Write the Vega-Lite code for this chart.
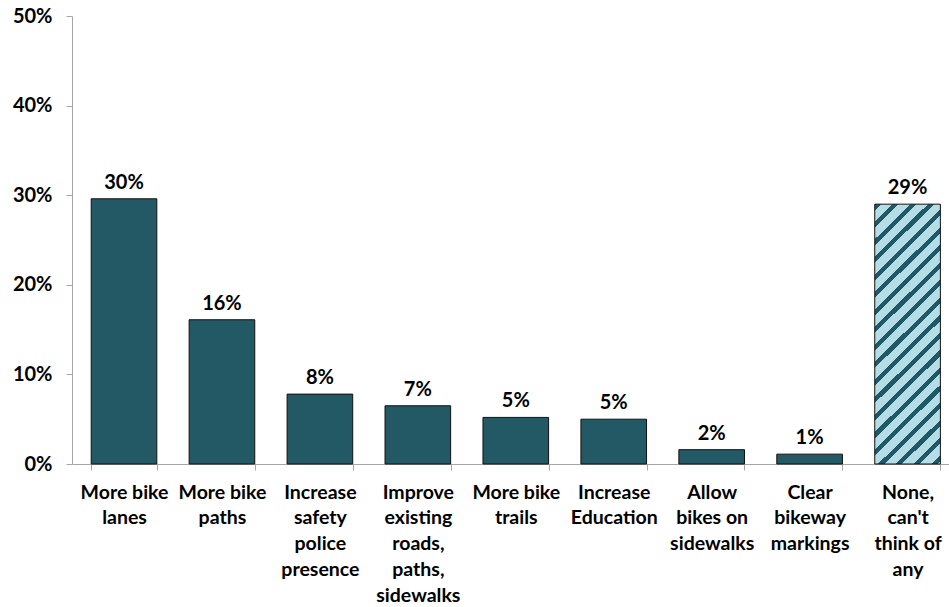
{
  "$schema": "https://vega.github.io/schema/vega-lite/v6.json",
  "autosize": {"type": "none"},
  "padding": {"left": 72, "top": 16, "right": 0, "bottom": 143},
  "width": 877,
  "height": 448,
  "background": "white",
  "config": {"view": {"stroke": null}, "font": "Lato"},
  "data": {"values": [
    {"cat": "More bike|lanes", "v": 0.296, "lbl": "30%", "kind": "solid"},
    {"cat": "More bike|paths", "v": 0.161, "lbl": "16%", "kind": "solid"},
    {"cat": "Increase|safety|police|presence", "v": 0.078, "lbl": "8%", "kind": "solid"},
    {"cat": "Improve|existing|roads,|paths,|sidewalks", "v": 0.065, "lbl": "7%", "kind": "solid"},
    {"cat": "More bike|trails", "v": 0.052, "lbl": "5%", "kind": "solid"},
    {"cat": "Increase|Education", "v": 0.050, "lbl": "5%", "kind": "solid"},
    {"cat": "Allow|bikes on|sidewalks", "v": 0.016, "lbl": "2%", "kind": "solid"},
    {"cat": "Clear|bikeway|markings", "v": 0.011, "lbl": "1%", "kind": "solid"},
    {"cat": "None,|can't|think of|any", "v": 0.290, "lbl": "29%", "kind": "hatch"}
  ]},
  "encoding": {
    "x": {
      "field": "cat", "type": "nominal", "sort": null,
      "scale": {"paddingInner": 0.33, "paddingOuter": 0.142, "align": 0.69},
      "axis": {
        "title": null, "labelAngle": 0, "tickBand": "extent",
        "labelExpr": "split(datum.label, '|')",
        "labelFont": "Lato", "labelFontSize": 19.5, "labelFontWeight": "bold", "labelColor": "#000000",
        "labelLineHeight": 25.8, "labelPadding": 13, "labelBaseline": "top",
        "domainColor": "#a6a6a6", "tickColor": "#a6a6a6", "tickSize": 6, "labelLimit": 200
      }
    },
    "y": {
      "field": "v", "type": "quantitative",
      "scale": {"domain": [0, 0.5], "nice": false},
      "axis": {
        "title": null, "values": [0, 0.1, 0.2, 0.3, 0.4, 0.5], "format": ".0%", "grid": false,
        "labelFont": "Lato", "labelFontSize": 20, "labelFontWeight": "bold", "labelColor": "#000000",
        "labelPadding": 14, "domainColor": "#a6a6a6", "tickColor": "#a6a6a6", "tickSize": 6
      }
    }
  },
  "layer": [
    {
      "transform": [{"filter": "datum.kind === 'solid'"}],
      "mark": {"type": "bar", "fill": "#235865", "stroke": "#111111", "strokeWidth": 1}
    },
    {
      "transform": [{"filter": "datum.kind === 'hatch'"}],
      "mark": {
        "type": "bar", "stroke": "#111111", "strokeWidth": 1,
        "fill": {
          "gradient": "linear", "x1": 0, "y1": 0, "x2": 0.294, "y2": 1.176,
          "stops": [
            {"offset": 0.000, "color": "#1f5866"}, {"offset": 0.019, "color": "#1f5866"}, {"offset": 0.019, "color": "#b5dde6"}, {"offset": 0.054, "color": "#b5dde6"},
            {"offset": 0.054, "color": "#1f5866"}, {"offset": 0.073, "color": "#1f5866"}, {"offset": 0.073, "color": "#b5dde6"}, {"offset": 0.108, "color": "#b5dde6"},
            {"offset": 0.108, "color": "#1f5866"}, {"offset": 0.127, "color": "#1f5866"}, {"offset": 0.127, "color": "#b5dde6"}, {"offset": 0.162, "color": "#b5dde6"},
            {"offset": 0.162, "color": "#1f5866"}, {"offset": 0.181, "color": "#1f5866"}, {"offset": 0.181, "color": "#b5dde6"}, {"offset": 0.216, "color": "#b5dde6"},
            {"offset": 0.216, "color": "#1f5866"}, {"offset": 0.235, "color": "#1f5866"}, {"offset": 0.235, "color": "#b5dde6"}, {"offset": 0.270, "color": "#b5dde6"},
            {"offset": 0.270, "color": "#1f5866"}, {"offset": 0.289, "color": "#1f5866"}, {"offset": 0.289, "color": "#b5dde6"}, {"offset": 0.324, "color": "#b5dde6"},
            {"offset": 0.324, "color": "#1f5866"}, {"offset": 0.343, "color": "#1f5866"}, {"offset": 0.343, "color": "#b5dde6"}, {"offset": 0.378, "color": "#b5dde6"},
            {"offset": 0.378, "color": "#1f5866"}, {"offset": 0.397, "color": "#1f5866"}, {"offset": 0.397, "color": "#b5dde6"}, {"offset": 0.432, "color": "#b5dde6"},
            {"offset": 0.432, "color": "#1f5866"}, {"offset": 0.451, "color": "#1f5866"}, {"offset": 0.451, "color": "#b5dde6"}, {"offset": 0.486, "color": "#b5dde6"},
            {"offset": 0.486, "color": "#1f5866"}, {"offset": 0.505, "color": "#1f5866"}, {"offset": 0.505, "color": "#b5dde6"}, {"offset": 0.540, "color": "#b5dde6"},
            {"offset": 0.540, "color": "#1f5866"}, {"offset": 0.559, "color": "#1f5866"}, {"offset": 0.559, "color": "#b5dde6"}, {"offset": 0.594, "color": "#b5dde6"},
            {"offset": 0.594, "color": "#1f5866"}, {"offset": 0.613, "color": "#1f5866"}, {"offset": 0.613, "color": "#b5dde6"}, {"offset": 0.648, "color": "#b5dde6"},
            {"offset": 0.648, "color": "#1f5866"}, {"offset": 0.667, "color": "#1f5866"}, {"offset": 0.667, "color": "#b5dde6"}, {"offset": 0.702, "color": "#b5dde6"},
            {"offset": 0.702, "color": "#1f5866"}, {"offset": 0.721, "color": "#1f5866"}, {"offset": 0.721, "color": "#b5dde6"}, {"offset": 0.756, "color": "#b5dde6"},
            {"offset": 0.756, "color": "#1f5866"}, {"offset": 0.775, "color": "#1f5866"}, {"offset": 0.775, "color": "#b5dde6"}, {"offset": 0.810, "color": "#b5dde6"},
            {"offset": 0.810, "color": "#1f5866"}, {"offset": 0.829, "color": "#1f5866"}, {"offset": 0.829, "color": "#b5dde6"}, {"offset": 0.864, "color": "#b5dde6"},
            {"offset": 0.864, "color": "#1f5866"}, {"offset": 0.883, "color": "#1f5866"}, {"offset": 0.883, "color": "#b5dde6"}, {"offset": 0.918, "color": "#b5dde6"},
            {"offset": 0.918, "color": "#1f5866"}, {"offset": 0.937, "color": "#1f5866"}, {"offset": 0.937, "color": "#b5dde6"}, {"offset": 0.972, "color": "#b5dde6"},
            {"offset": 0.972, "color": "#1f5866"}, {"offset": 0.991, "color": "#1f5866"}, {"offset": 0.991, "color": "#b5dde6"}, {"offset": 1.000, "color": "#b5dde6"}
          ]
        }
      }
    },
    {
      "mark": {"type": "text", "baseline": "alphabetic", "dy": -10, "font": "Lato", "fontSize": 20, "fontWeight": "bold", "color": "#000000"},
      "encoding": {"text": {"field": "lbl"}}
    }
  ]
}
